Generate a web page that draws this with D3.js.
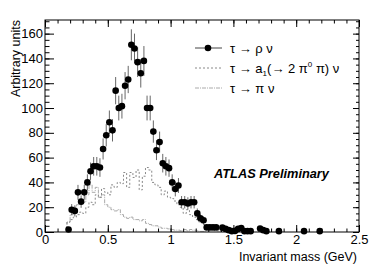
<!DOCTYPE html>
<html>
<head>
<meta charset="utf-8">
<script src="https://cdn.jsdelivr.net/npm/d3@7"></script>
<style>
  body { margin: 0; background: #fff; }
  svg { display: block; font-family: "Liberation Sans", Arial, sans-serif; }
  .tick text { font-size: 13px; fill: #000; }
  .domain { display: none; }
</style>
</head>
<body>
<div id="chart"></div>
<script>

// tau -> rho nu points (bin centres, counts, errors)
var rhoMass = [0.1875,0.2125,0.2375,0.2625,0.2875,0.3125,0.3375,0.3625,0.3875,0.4125,
  0.4375,0.4625,0.4875,0.5125,0.5375,0.5625,0.5875,0.6125,0.6375,0.6625,
  0.6875,0.7125,0.7375,0.7625,0.7875,0.8125,0.8375,0.8625,0.8875,0.9125,
  0.9375,0.9625,0.9875,1.0125,1.0375,1.0625,1.0875,1.1125,1.1375,1.1625,
  1.1875,1.2125,1.2375,1.2625,1.2875,1.3125,1.3375,1.3625,1.4125,1.4375,
  1.4625,1.4875,1.5125,1.5375,1.5625,1.5875,1.6125,1.6375,1.7125,1.7375,
  1.7625,1.8625,2.0625,2.1875];
var rhoCounts = [2,18,17,32,24.5,32,40,49,53,53,
  52,67,78,88.5,82,114,100,101.5,118,123,
  151,148,137,128,138,100,100,81,66,72.5,
  55.5,53,51.5,40,34.7,37.5,24,24,23,24,
  24,15,11,9.5,3.7,3.7,3.7,3.7,3.5,2.5,
  1.5,0.7,0.9,2.5,3.2,0.7,0.7,0.7,2.8,1.5,
  0.7,0.7,0.7,0.7];
var rhoErr = [1.5,4.5,4.5,6,5,6,6.5,7,7.5,7.5,
  7.5,8.5,9,9.5,9,11,10,10,11,11,
  12.5,12,12,11.5,12,10,10,9,8,8.5,
  7.5,7.5,7,6.5,6,6,5,5,5,5,
  5,4,3.3,3,2,2,2,2,2,1.6,
  1.2,0.8,0.9,1.6,1.8,0.8,0.8,0.8,1.7,1.2,
  0.8,0.8,0.8,0.8];

// histograms: first bin low edge and bin width, then contents
var histStart = 0.175, histWidth = 0.025;
var a1Counts = [8,10,12,14,16,15,20,24,22,30,
  28,35,32,30,38,36,40,39,48,36,
  48,44,50,34,45,52,50,40,38,36,
  30,33,28,27,25,22,20,15,18,14,
  12,10,8,6,5,3,2,1,1,0.5];
var piCounts = [8,14,20,22,26,24,30,38,32,36,
  28,30,22,20,18,17,18,14,12,11,
  12,10,10,9,10,7,6,5,5,4,
  3,3,2.5,2,1.5,1.5,1,2,1,2,
  1.5,1,0.5,0.5];

var xTicks = [0, 0.5, 1, 1.5, 2, 2.5];
var yTicks = [0, 20, 40, 60, 80, 100, 120, 140, 160];

var W = 382, H = 276;
var frame = { left: 45, right: 359, top: 20, bottom: 232 };

var x = d3.scaleLinear().domain([0, 2.5]).range([frame.left, frame.right]);
var y = d3.scaleLinear().domain([0, 171]).range([frame.bottom, frame.top]);

var svg = d3.select("#chart").append("svg")
  .attr("width", W).attr("height", H);

// histograms
function histPath(counts) {
  var pts = [[histStart, 0]];
  counts.forEach(function(c, i) { pts.push([histStart + i * histWidth, c]); });
  pts.push([histStart + counts.length * histWidth, 0]);
  return d3.line()
    .x(function(d) { return x(d[0]); })
    .y(function(d) { return y(d[1]); })
    .curve(d3.curveStepAfter)(pts);
}

svg.append("path")
  .attr("d", histPath(piCounts))
  .attr("fill", "none")
  .attr("stroke", "#aaa")
  .attr("stroke-width", 1)
  .attr("stroke-dasharray", "4,1,1,1");

svg.append("path")
  .attr("d", histPath(a1Counts))
  .attr("fill", "none")
  .attr("stroke", "#888")
  .attr("stroke-width", 1)
  .attr("stroke-dasharray", "2,2");

// rho points with error bars
var pts = rhoMass.map(function(m, i) { return { m: m, v: rhoCounts[i], e: rhoErr[i] }; });

svg.selectAll(".err")
  .data(pts)
  .enter().append("line")
  .attr("class", "err")
  .attr("x1", function(d) { return x(d.m); })
  .attr("x2", function(d) { return x(d.m); })
  .attr("y1", function(d) { return y(Math.max(0, d.v - d.e)); })
  .attr("y2", function(d) { return y(d.v + d.e); })
  .attr("stroke", "#666")
  .attr("stroke-width", 1);

svg.selectAll(".pt")
  .data(pts)
  .enter().append("circle")
  .attr("class", "pt")
  .attr("cx", function(d) { return x(d.m); })
  .attr("cy", function(d) { return y(d.v); })
  .attr("r", 3.3)
  .attr("fill", "#000");

// axes, ROOT style ticks pointing inwards
var xMinor = d3.range(0, 2.5001, 0.1);
var yMinor = d3.range(0, 171, 5);

svg.append("g")
  .attr("transform", "translate(0," + frame.bottom + ")")
  .call(d3.axisBottom(x).tickValues(xMinor).tickSize(-3.5).tickFormat(""));
svg.append("g")
  .attr("transform", "translate(0," + frame.bottom + ")")
  .call(d3.axisBottom(x).tickValues(xTicks).tickSize(-7).tickPadding(3)
    .tickFormat(d3.format("~g")));

svg.append("g")
  .attr("transform", "translate(0," + frame.top + ")")
  .call(d3.axisTop(x).tickValues(xMinor).tickSize(-3.5).tickFormat(""));
svg.append("g")
  .attr("transform", "translate(0," + frame.top + ")")
  .call(d3.axisTop(x).tickValues(xTicks).tickSize(-7).tickFormat(""));

svg.append("g")
  .attr("transform", "translate(" + frame.left + ",0)")
  .call(d3.axisLeft(y).tickValues(yMinor).tickSize(-4.5).tickFormat(""));
svg.append("g")
  .attr("transform", "translate(" + frame.left + ",0)")
  .call(d3.axisLeft(y).tickValues(yTicks).tickSize(-9).tickPadding(2));

svg.append("g")
  .attr("transform", "translate(" + frame.right + ",0)")
  .call(d3.axisRight(y).tickValues(yMinor).tickSize(-3).tickFormat(""));
svg.append("g")
  .attr("transform", "translate(" + frame.right + ",0)")
  .call(d3.axisRight(y).tickValues(yTicks).tickSize(-6).tickFormat(""));

svg.selectAll(".tick line").attr("stroke", "#000");

svg.append("rect")
  .attr("x", frame.left).attr("y", frame.top)
  .attr("width", frame.right - frame.left)
  .attr("height", frame.bottom - frame.top)
  .attr("fill", "none").attr("stroke", "#000").attr("stroke-width", 1);

// axis titles
svg.append("text")
  .attr("transform", "translate(20," + frame.top + ") rotate(-90)")
  .attr("text-anchor", "end")
  .attr("font-size", 12.5)
  .text("Arbitrary units");

svg.append("text")
  .attr("x", frame.right - 2).attr("y", 261)
  .attr("text-anchor", "end")
  .attr("font-size", 12.5)
  .text("Invariant mass (GeV)");

// legend
var leg = svg.append("g");
leg.append("line").attr("x1", 195).attr("x2", 222).attr("y1", 48).attr("y2", 48)
  .attr("stroke", "#444");
leg.append("circle").attr("cx", 208).attr("cy", 48).attr("r", 3.3).attr("fill", "#000");
leg.append("text").attr("x", 230).attr("y", 52.5).attr("font-size", 13)
  .text("\u03c4 \u2192 \u03c1 \u03bd");

leg.append("line").attr("x1", 195).attr("x2", 222).attr("y1", 68).attr("y2", 68)
  .attr("stroke", "#888").attr("stroke-dasharray", "2,2");
var t2 = leg.append("text").attr("x", 230).attr("y", 72.5).attr("font-size", 13);
t2.append("tspan").text("\u03c4 \u2192 a");
t2.append("tspan").attr("font-size", 8).attr("dy", 3).text("1");
t2.append("tspan").attr("dy", -3).text("(\u2192 2 \u03c0");
t2.append("tspan").attr("font-size", 8).attr("dy", -6).text("0");
t2.append("tspan").attr("dy", 6).text(" \u03c0) \u03bd");

leg.append("line").attr("x1", 195).attr("x2", 222).attr("y1", 88).attr("y2", 88)
  .attr("stroke", "#aaa").attr("stroke-dasharray", "4,1,1,1");
leg.append("text").attr("x", 230).attr("y", 92.5).attr("font-size", 13)
  .text("\u03c4 \u2192 \u03c0 \u03bd");

svg.append("text")
  .attr("x", 214).attr("y", 178)
  .attr("font-size", 12.8)
  .attr("font-weight", "bold")
  .attr("font-style", "italic")
  .text("ATLAS Preliminary");

</script>
</body>
</html>
